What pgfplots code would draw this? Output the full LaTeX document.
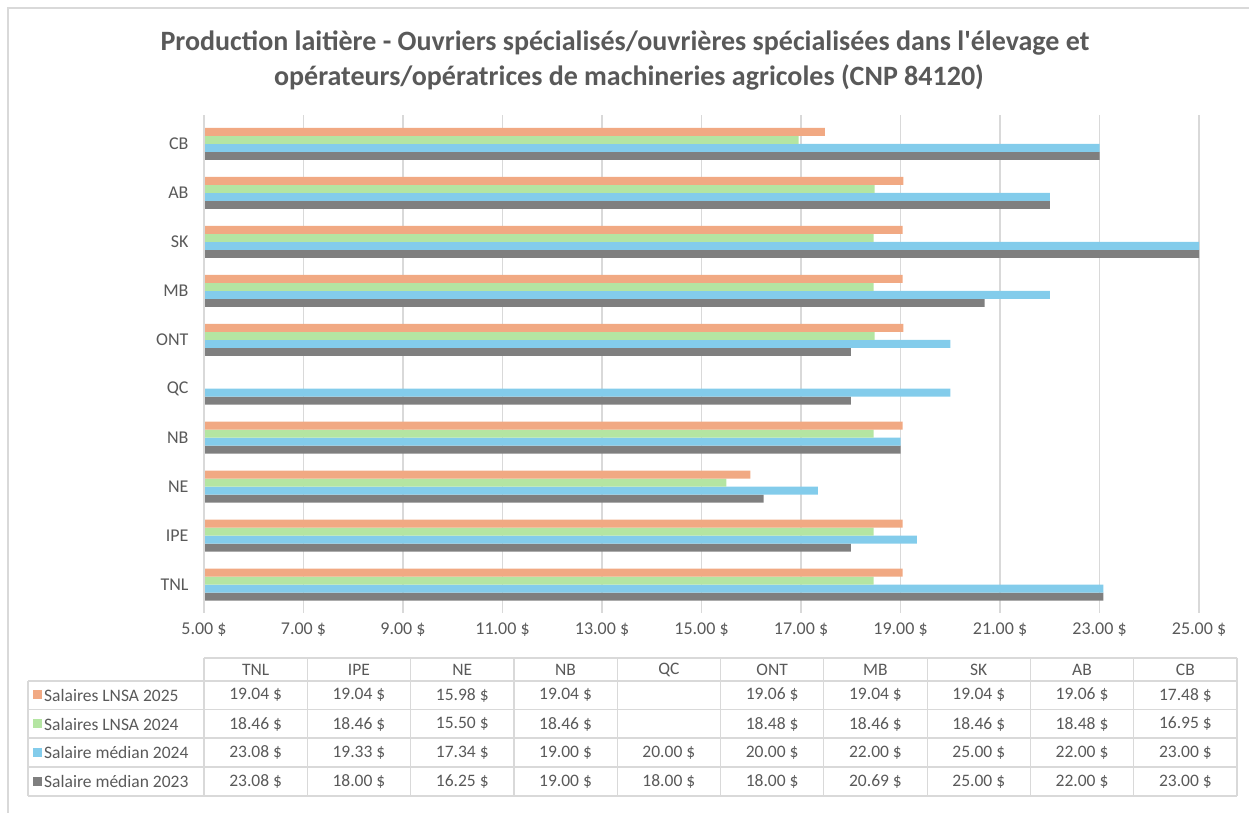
\documentclass[border=0pt]{standalone}
\usepackage{fontspec}
\setmainfont{Carlito}
\usepackage{pgfplots}
\usepackage{pgfplotstable}
\pgfplotsset{compat=1.18}

\definecolor{cLa}{HTML}{F1A983}
\definecolor{cLb}{HTML}{B4E5A2}
\definecolor{cMa}{HTML}{83CCEB}
\definecolor{cMb}{HTML}{7F7F7F}
\definecolor{txt}{HTML}{595959}
\definecolor{gridc}{HTML}{D9D9D9}

% hourly wages by province (pos = row of the category axis)
\pgfplotstableread{
pos prov l25   l24   m24   m23
0   TNL  19.04 18.46 23.08 23.08
1   IPE  19.04 18.46 19.33 18.00
2   NE   15.98 15.50 17.34 16.25
3   NB   19.04 18.46 19.00 19.00
4   QC   nan   nan   20.00 18.00
5   ONT  19.06 18.48 20.00 18.00
6   MB   19.04 18.46 22.00 20.69
7   SK   19.04 18.46 25.00 25.00
8   AB   19.06 18.48 22.00 22.00
9   CB   17.48 16.95 23.00 23.00
}\salaires

\def\nanval{nan}
\newcommand\smallfont{\fontsize{17.5}{21}\selectfont}

\begin{document}
\begin{tikzpicture}[x=1pt,y=1pt]
\useasboundingbox (0,0) rectangle (1249,813);
% chart frame
\draw[gridc, line width=1.2pt] (8,-5) -- (8,805) -- (1260,805);

% title
\node[font=\fontsize{28}{32}\selectfont\bfseries, text=txt] at (625,{813-43})
  {Production laitière - Ouvriers spécialisés/ouvrières spécialisées dans l\textquotesingle élevage et};
\node[font=\fontsize{28}{32}\selectfont\bfseries, text=txt] at (629,{813-77})
  {opérateurs/opératrices de machineries agricoles (CNP 84120)};

\begin{axis}[
  at={(204pt,204pt)}, anchor=south west,
  scale only axis, width=995pt, height=489.5pt,
  xmin=5, xmax=25, ymin=-0.5, ymax=9.5,
  xbar, bar width=0.1635,
  xtick={5,7,...,25},
  xticklabel={\pgfmathprintnumber[fixed,fixed zerofill,precision=2]{\tick}~\$},
  /pgf/number format/assume math mode=true,
  ytick={0,...,9},
  yticklabels={TNL,IPE,NE,NB,QC,ONT,MB,SK,AB,CB},
  xmajorgrids,
  major grid style={draw=gridc, line width=1.2pt},
  axis line style={draw=none},
  tick align=outside,
  major tick length=4pt,
  xtick style={draw=gridc, line width=1.2pt},
  ytick style={draw=none},
  tick label style={font=\fontsize{18}{21}\selectfont, text=txt},
  xticklabel style={yshift=-6pt},
  yticklabel style={xshift=-8pt},
]
\addplot[fill=cMb, draw=none, bar shift=-0.24525] table[x=m23, y=pos] {\salaires};
\addplot[fill=cMa, draw=none, bar shift=-0.08175] table[x=m24, y=pos] {\salaires};
\addplot[fill=cLb, draw=none, bar shift=0.08175] table[x=l24, y=pos] {\salaires};
\addplot[fill=cLa, draw=none, bar shift=0.24525] table[x=l25, y=pos] {\salaires};
\draw[gridc, line width=1.2pt] (axis cs:5,-0.5) -- (axis cs:5,9.5);
\end{axis}

% data table under the chart
\begin{scope}[gridc, line width=1.2pt]
  \draw (204,{813-658}) -- (1237,{813-658});
  \foreach \yy in {681,709.5,738,767,796} \draw (28,{813-\yy}) -- (1237,{813-\yy});
  \draw (28,{813-681}) -- (28,{813-796});
  \foreach \k in {0,...,10} \draw ({204+103.3*\k},{813-658}) -- ({204+103.3*\k},{813-796});
\end{scope}
\foreach \k/\name in {0/TNL,1/IPE,2/NE,3/NB,4/QC,5/ONT,6/MB,7/SK,8/AB,9/CB}
  \node[font=\smallfont, text=txt] at ({204+103.3*(\k+0.5)},{813-669.5}) {\name};
\foreach \col/\rowy/\key/\lab in {
  l25/695/cLa/Salaires LNSA 2025,
  l24/724/cLb/Salaires LNSA 2024,
  m24/752.5/cMa/Salaire médian 2024,
  m23/781.5/cMb/Salaire médian 2023} {
  \fill[\key] (33,{813-\rowy-4.5}) rectangle ++(9,9);
  \node[font=\smallfont, text=txt, anchor=west, inner sep=0pt] at (44,{813-\rowy}) {\lab};
  \foreach \k in {0,...,9} {
    \pgfplotstablegetelem{\k}{\col}\of\salaires
    \ifx\pgfplotsretval\nanval\else
      \node[font=\smallfont, text=txt] at ({204+103.3*(\k+0.5)},{813-\rowy})
        {\pgfmathprintnumber[fixed,fixed zerofill,precision=2,assume math mode=true]{\pgfplotsretval}~\$};
    \fi
  }
}
\end{tikzpicture}
\end{document}
